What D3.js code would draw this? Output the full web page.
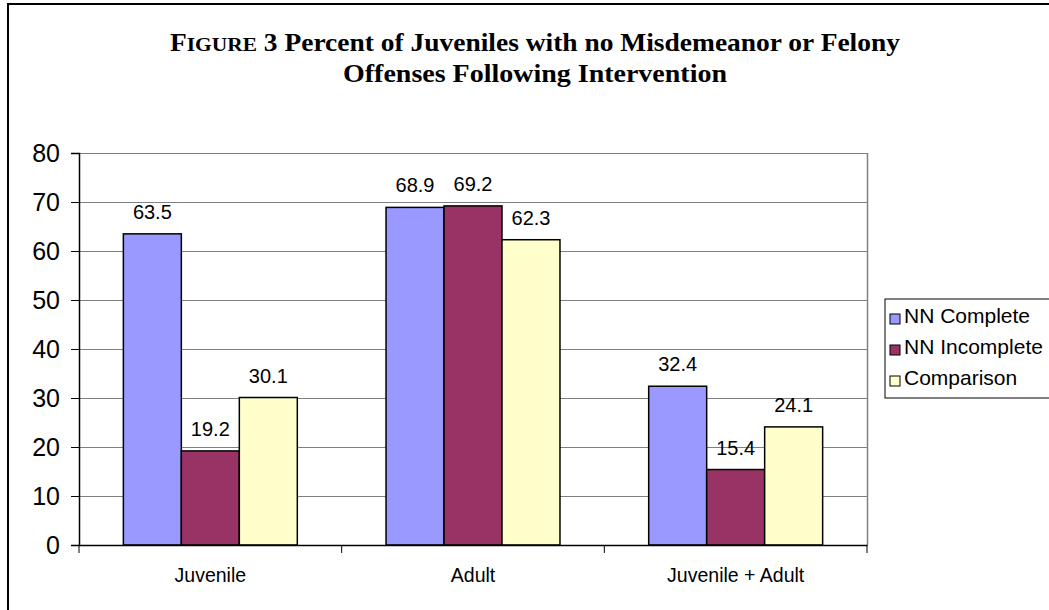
<!DOCTYPE html>
<html>
<head>
<meta charset="utf-8">
<script src="https://cdn.jsdelivr.net/npm/d3@7"></script>
<style>
  html, body { margin: 0; padding: 0; background: #fff; }
  svg { display: block; }
</style>
</head>
<body>
<svg id="chart" width="1049" height="610"></svg>
<script>
const categories = ["Juvenile", "Adult", "Juvenile + Adult"];
const seriesNames = ["NN Complete", "NN Incomplete", "Comparison"];
const nnComplete = [63.5, 68.9, 32.4];
const nnIncomplete = [19.2, 69.2, 15.4];
const comparison = [30.1, 62.3, 24.1];
const yTicks = [0, 10, 20, 30, 40, 50, 60, 70, 80];
const colors = ["#9999FF", "#993366", "#FFFFCC"];

const seriesValues = [nnComplete, nnIncomplete, comparison];

const svg = d3.select("#chart");
const W = 1049, H = 610;
svg.append("rect").attr("width", W).attr("height", H).attr("fill", "#fff");

// outer frame (right and bottom edges fall outside the picture)
svg.append("rect")
  .attr("x", 8).attr("y", 4).attr("width", 1200).attr("height", 800)
  .attr("fill", "none").attr("stroke", "#000").attr("stroke-width", 2);

const plot = { left: 79, right: 867, top: 153, bottom: 545 };

const x0 = d3.scaleBand().domain(categories).range([plot.left, plot.right]).paddingInner(0).paddingOuter(0);
const x1 = d3.scaleBand().domain(seriesNames).range([0, x0.bandwidth()]).paddingInner(0).paddingOuter(0.765);
const y = d3.scaleLinear().domain([0, 80]).range([plot.bottom, plot.top]);

// gridlines
svg.append("g").selectAll("line").data(yTicks.filter(d => d > 0)).join("line")
  .attr("x1", plot.left).attr("x2", plot.right)
  .attr("y1", d => y(d) + 0.5).attr("y2", d => y(d) + 0.5)
  .attr("stroke", "#808080").attr("stroke-width", 1);

// plot area right border
svg.append("line")
  .attr("x1", plot.right + 0.5).attr("x2", plot.right + 0.5)
  .attr("y1", plot.top).attr("y2", plot.bottom)
  .attr("stroke", "#808080").attr("stroke-width", 1.5);

// bars
const groups = svg.append("g").selectAll("g").data(categories).join("g")
  .attr("transform", d => `translate(${x0(d)},0)`);

groups.each(function(cat, ci) {
  const g = d3.select(this);
  seriesNames.forEach((s, si) => {
    const v = seriesValues[si][ci];
    g.append("rect")
      .attr("x", x1(s))
      .attr("y", y(v))
      .attr("width", x1.bandwidth())
      .attr("height", y(0) - y(v))
      .attr("fill", colors[si])
      .attr("stroke", "#000")
      .attr("stroke-width", 1.5);
  });
});

// value labels
groups.each(function(cat, ci) {
  const g = d3.select(this);
  seriesNames.forEach((s, si) => {
    const v = seriesValues[si][ci];
    g.append("text")
      .attr("x", x1(s) + x1.bandwidth() / 2)
      .attr("y", y(v) - 15)
      .attr("text-anchor", "middle")
      .attr("font-family", "Liberation Sans, Arial, sans-serif")
      .attr("font-size", 20)
      .attr("fill", "#000")
      .text(v.toFixed(1));
  });
});

// y axis
const yAxis = d3.axisLeft(y).tickValues(yTicks).tickSize(8).tickPadding(11).tickFormat(d3.format("d"));
const yg = svg.append("g").attr("transform", `translate(${plot.left},0)`).call(yAxis);
yg.select(".domain").attr("stroke", "#000").attr("stroke-width", 1.5);
yg.selectAll(".tick line").attr("stroke", "#000").attr("stroke-width", 1);
yg.selectAll(".tick text")
  .attr("font-family", "Liberation Sans, Arial, sans-serif")
  .attr("font-size", 25)
  .attr("fill", "#000");

// x axis
const xAxis = d3.axisBottom(x0).tickSize(0).tickPadding(23);
const xg = svg.append("g").attr("transform", `translate(0,${plot.bottom})`).call(xAxis);
xg.select(".domain").attr("stroke", "#000").attr("stroke-width", 1.5);
xg.selectAll(".tick text")
  .attr("font-family", "Liberation Sans, Arial, sans-serif")
  .attr("font-size", 19.5)
  .attr("fill", "#000");
// category boundary ticks
const bounds = categories.map(c => x0(c)).concat([plot.right]);
xg.append("g").selectAll("line").data(bounds).join("line")
  .attr("x1", d => d).attr("x2", d => d)
  .attr("y1", 0).attr("y2", 8)
  .attr("stroke", "#000").attr("stroke-width", 1);

// title
const title = svg.append("g")
  .attr("font-family", "Liberation Serif, Times New Roman, serif")
  .attr("font-weight", "bold")
  .attr("fill", "#000");
const t1 = title.append("text").attr("x", 535).attr("y", 51).attr("text-anchor", "middle")
  .attr("font-size", 25)
  .attr("textLength", 730).attr("lengthAdjust", "spacingAndGlyphs");
t1.append("tspan").text("F");
t1.append("tspan").attr("font-size", 19.5).text("IGURE");
t1.append("tspan").text(" 3 Percent of Juveniles with no Misdemeanor or Felony");
title.append("text").attr("x", 535).attr("y", 82).attr("text-anchor", "middle")
  .attr("font-size", 25)
  .attr("textLength", 384).attr("lengthAdjust", "spacingAndGlyphs")
  .text("Offenses Following Intervention");

// legend
const legend = svg.append("g");
legend.append("rect")
  .attr("x", 885).attr("y", 299).attr("width", 300).attr("height", 99)
  .attr("fill", "#fff").attr("stroke", "#000").attr("stroke-width", 1);
const li = legend.selectAll("g.item").data(seriesNames).join("g")
  .attr("class", "item")
  .attr("transform", (d, i) => `translate(890,${323 + i * 31})`);
li.append("rect")
  .attr("x", 0).attr("y", -9).attr("width", 10).attr("height", 10)
  .attr("fill", (d, i) => colors[i]).attr("stroke", "#000").attr("stroke-width", 1);
li.append("text")
  .attr("x", 14).attr("y", 0)
  .attr("font-family", "Liberation Sans, Arial, sans-serif")
  .attr("font-size", 21)
  .attr("fill", "#000")
  .text(d => d);
</script>
</body>
</html>
